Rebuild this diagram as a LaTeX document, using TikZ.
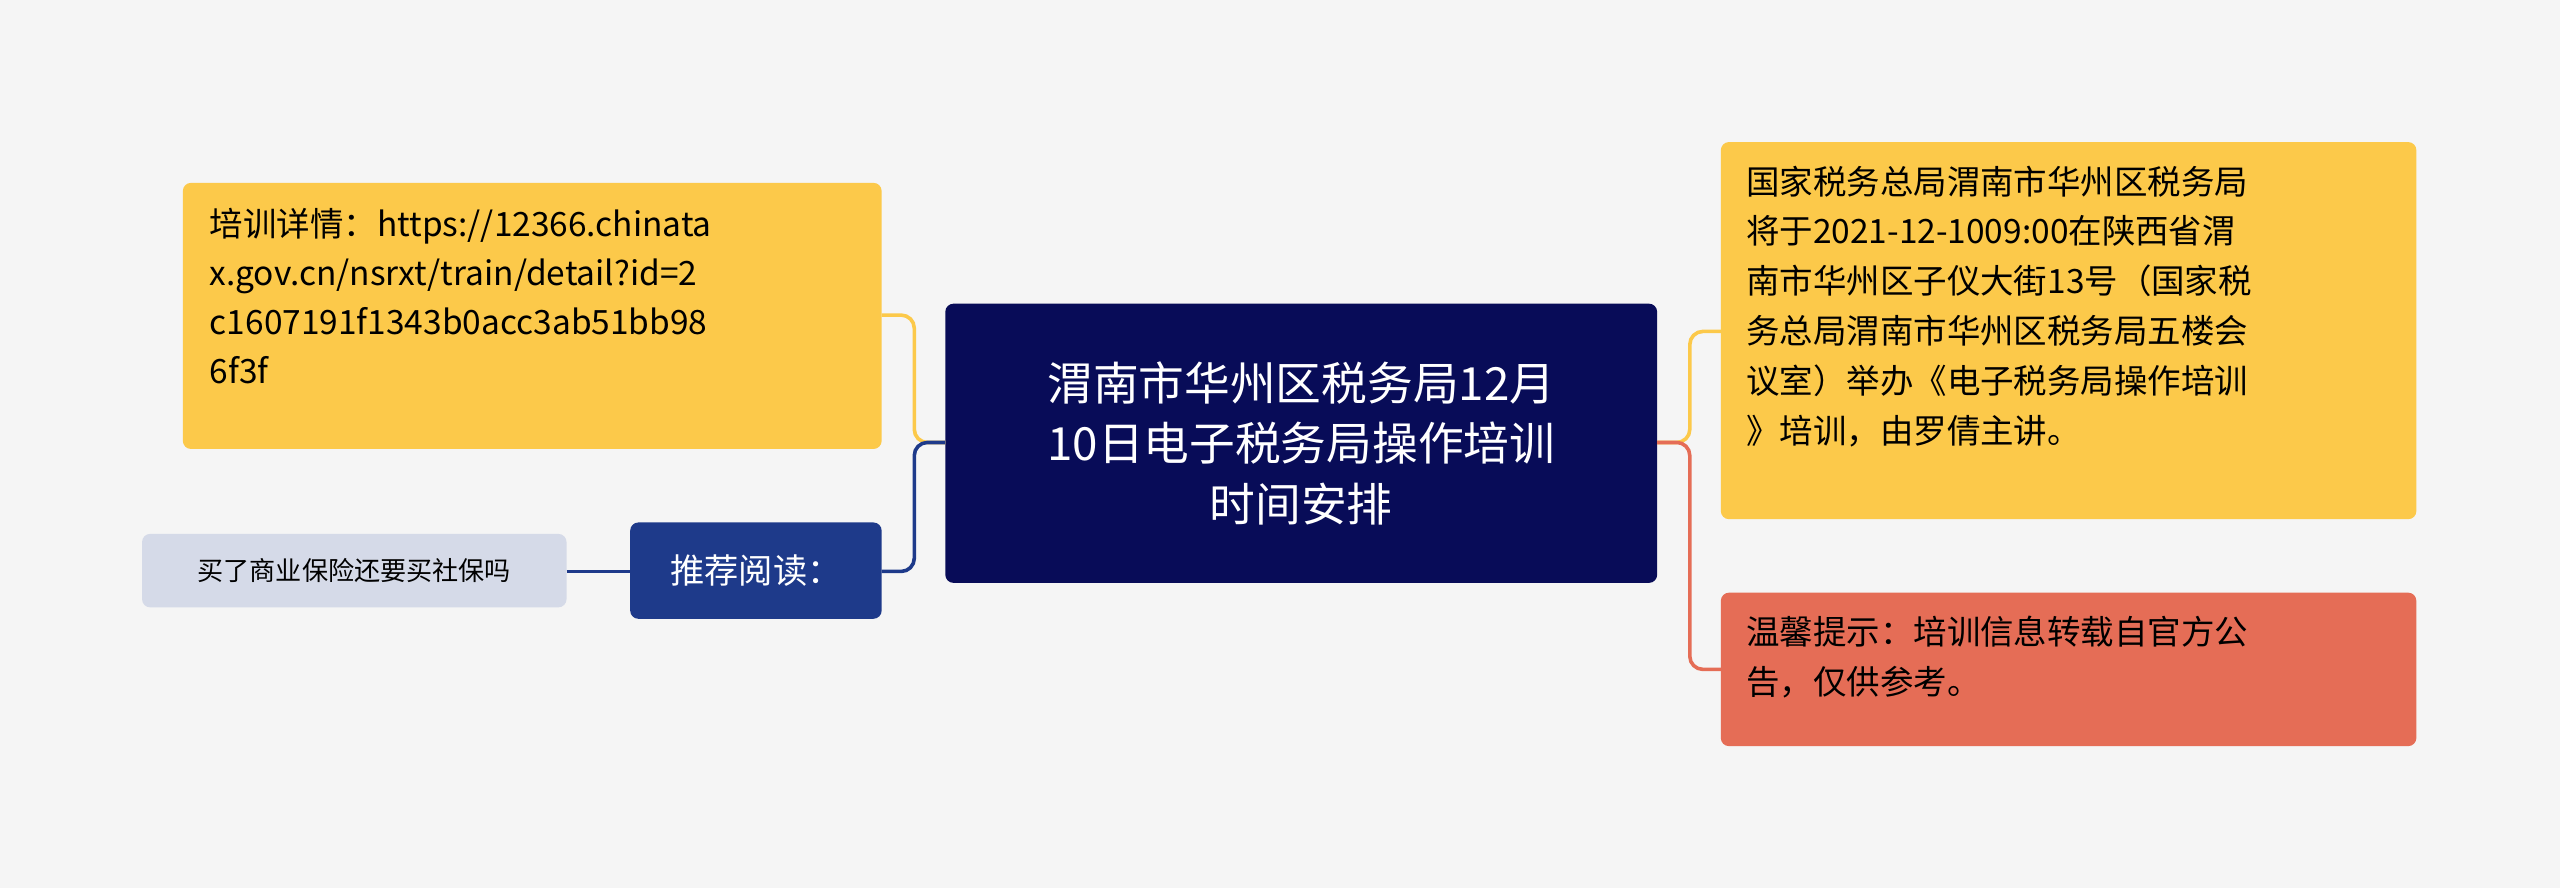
\documentclass[tikz,border=0pt]{standalone}
\usepackage{fontspec}
\setmainfont{Noto Sans CJK SC}
\begin{document}
\begin{tikzpicture}[x=1pt,y=-1pt,
  box/.style={rounded corners=5pt,inner sep=0pt,align=left,anchor=north west},
  conn/.style={line width=2.2pt,rounded corners=8pt}]
\definecolor{bg}{HTML}{F5F5F5}
\definecolor{navy}{HTML}{080C58}
\definecolor{yel}{HTML}{FCC94A}
\definecolor{blu}{HTML}{1E3A8A}
\definecolor{lgr}{HTML}{D5DAE8}
\definecolor{red}{HTML}{E56D56}
\fill[bg] (0,0) rectangle (1568,544);
\useasboundingbox (0,0) rectangle (1568,544);
% boxes
\fill[navy,rounded corners=5pt] (579,186) rectangle (1015,357);
\node[text=white,font=\fontsize{28}{37}\selectfont,align=center] (c) at (797,271.5) {渭南市华州区税务局12月\\10日电子税务局操作培训\\时间安排};
\fill[yel,rounded corners=5pt] (112,112) rectangle (540,275);
\node[font=\fontsize{20.5}{30}\selectfont,align=left,anchor=north west] (l1) at (125,124) {培训详情：https://12366.chinata\\x.gov.cn/nsrxt/train/detail?id=2\\c1607191f1343b0acc3ab51bb98\\6f3f};
\fill[blu,rounded corners=5pt] (386,320) rectangle (540,379);
\node[text=white,font=\fontsize{21}{26}\selectfont] (l2) at (463,349.5) {推荐阅读：};
\fill[lgr,rounded corners=5pt] (87,327) rectangle (347,372);
\node[font=\fontsize{16}{20}\selectfont] (l3) at (217,349.5) {买了商业保险还要买社保吗};
\fill[yel,rounded corners=5pt] (1054,87) rectangle (1480,318);
\node[font=\fontsize{20.5}{30.5}\selectfont,align=left,anchor=north west] (r1) at (1066,98) {国家税务总局渭南市华州区税务局\\将于2021-12-1009:00在陕西省渭\\南市华州区子仪大街13号（国家税\\务总局渭南市华州区税务局五楼会\\议室）举办《电子税务局操作培训\\》培训，由罗倩主讲。};
\fill[red,rounded corners=5pt] (1054,363) rectangle (1480,457);
\node[font=\fontsize{20.5}{30.5}\selectfont,align=left,anchor=north west] (r2) at (1066,374) {温馨提示：培训信息转载自官方公\\告，仅供参考。};
% connectors
\coordinate (cl) at (579,271);
\coordinate (cr) at (1015,271);
\draw[conn,yel] (cl) -- (560,271) -- (560,193) -- (540,193);
\draw[conn,blu] (cl) -- (560,271) -- (560,350) -- (540,350);
\draw[line width=2.2pt,blu] (347,350) -- (386,350);
\draw[conn,yel] (cr) -- (1035,271) -- (1035,203) -- (1054,203);
\draw[conn,red] (cr) -- (1035,271) -- (1035,410) -- (1054,410);
\end{tikzpicture}
\end{document}
